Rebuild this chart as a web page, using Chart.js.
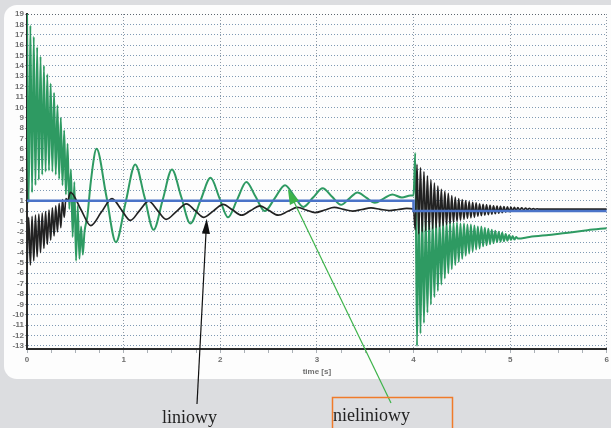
<!DOCTYPE html>
<html>
<head>
<meta charset="utf-8">
<script src="https://cdn.jsdelivr.net/npm/chart.js@4.4.1/dist/chart.umd.min.js"></script>
<style>
  html, body { margin: 0; padding: 0; background: #dcdde0; }
  canvas { display: block; }
</style>
</head>
<body>
<canvas id="wykres" width="611" height="428"></canvas>
<script>
// osie
const yTicks = [-13, -12, -11, -10, -9, -8, -7, -6, -5, -4, -3, -2, -1, 0, 1, 2, 3, 4, 5, 6, 7, 8, 9, 10, 11, 12, 13, 14, 15, 16, 17, 18, 19];
const xTicks = [0, 1, 2, 3, 4, 5, 6];

// wartosc zadana (niebieska)
const zadanaT = [0, 4, 4, 6];
const zadanaY = [1, 1, 0, 0];

// start - szybkie oscylacje 0..0.42 s
const szybkieT1 = [0, 0.0175, 0.035, 0.0525, 0.07, 0.0875, 0.105, 0.1225, 0.14, 0.1575, 0.175, 0.1925, 0.21, 0.2275, 0.245, 0.2625, 0.28, 0.2975, 0.315, 0.3325, 0.35, 0.3675, 0.385, 0.4025, 0.42];
const nieliniowyStart = [19.0, 0.8, 17.9, 1.8, 16.8, 2.5, 15.8, 3.0, 14.9, 3.5, 14.0, 3.8, 13.2, 3.9, 12.3, 3.8, 11.4, 3.5, 10.2, 3.1, 9.0, 2.5, 7.8, 1.6, 6.5];
const liniowyStart = [-5.6, -0.6, -5.2, -0.5, -4.8, -0.4, -4.4, -0.3, -4.0, -0.2, -3.6, -0.05, -3.2, 0.1, -2.8, 0.3, -2.4, 0.5, -2.0, 0.75, -1.6, 1.1, -0.6, 1.2, 1.0];

// wolne oscylacje do 4 s
const nieliniowyWolneT = [0.4375, 0.455, 0.4725, 0.49, 0.5075, 0.525, 0.5425, 0.56, 0.5775, 0.595, 0.625, 0.66, 0.72, 0.82, 0.92, 1.02, 1.12, 1.215, 1.31, 1.405, 1.5, 1.595, 1.69, 1.795, 1.9, 1.99, 2.08, 2.175, 2.27, 2.365, 2.46, 2.565, 2.67, 2.765, 2.86, 2.96, 3.06, 3.155, 3.25, 3.335, 3.42, 3.51, 3.6, 3.69, 3.78, 3.88, 3.97, 4.0];
const nieliniowyWolne = [0.2, 4.0, -2.5, 2.8, -4.8, 0.5, -4.6, -1.5, -4.2, -2.0, -0.5, 2.8, 6.0, 1.5, -3.0, 0.8, 4.5, 1.4, -1.8, 1.1, 4.0, 1.4, -1.2, 1.0, 3.2, 1.3, -0.6, 1.1, 2.8, 1.4, 0.0, 1.25, 2.5, 1.45, 0.4, 1.3, 2.2, 1.4, 0.6, 1.2, 1.8, 1.3, 0.8, 1.2, 1.6, 1.3, 1.5, 1.5];
const liniowyWolneT = [0.45, 0.555, 0.66, 0.77, 0.88, 0.975, 1.07, 1.165, 1.26, 1.35, 1.44, 1.545, 1.65, 1.74, 1.83, 1.93, 2.03, 2.125, 2.22, 2.315, 2.41, 2.505, 2.6, 2.7, 2.8, 2.89, 2.98, 3.08, 3.18, 3.275, 3.37, 3.465, 3.56, 3.655, 3.75, 3.84, 3.93, 4.0];
const liniowyWolne = [1.8, 0.2, -1.4, -0.1, 1.2, 0.15, -0.9, 0.05, 0.95, 0.07, -0.8, -0.05, 0.7, 0.05, -0.6, 0.02, 0.65, 0.12, -0.4, 0.05, 0.5, 0.05, -0.4, -0.02, 0.35, 0.1, -0.15, 0.1, 0.35, 0.17, 0.0, 0.15, 0.3, 0.17, 0.05, 0.15, 0.25, 0.2];

// po skoku w 4 s - szybkie oscylacje
const szybkieT2 = [4.018, 4.036, 4.054, 4.072, 4.09, 4.108, 4.126, 4.144, 4.162, 4.18,
  4.198, 4.216, 4.234, 4.252, 4.27, 4.288, 4.306, 4.324, 4.342, 4.36,
  4.378, 4.396, 4.414, 4.432, 4.45, 4.468, 4.486, 4.504, 4.522, 4.54,
  4.558, 4.576, 4.594, 4.612, 4.63, 4.648, 4.666, 4.684, 4.702, 4.72,
  4.738, 4.756, 4.774, 4.792, 4.81, 4.828, 4.846, 4.864, 4.882, 4.9,
  4.918, 4.936, 4.954, 4.972, 4.99, 5.008, 5.026, 5.044, 5.062, 5.08];
const nieliniowySkok = [5.6, -13.0, 0.5, -11.8, -0.2, -10.8, -0.5, -9.8, -0.7, -9.0,
  -0.8, -8.3, -0.9, -7.7, -0.9, -7.1, -1.0, -6.5, -1.0, -6.0,
  -1.0, -5.6, -1.1, -5.2, -1.1, -4.9, -1.2, -4.6, -1.2, -4.3,
  -1.3, -4.1, -1.3, -3.9, -1.4, -3.7, -1.5, -3.6, -1.5, -3.4,
  -1.6, -3.3, -1.7, -3.2, -1.8, -3.1, -1.9, -3.0, -2.0, -2.95,
  -2.1, -2.9, -2.2, -2.85, -2.3, -2.8, -2.4, -2.75, -2.5, -2.65];
const liniowySkok = [-1.8, 4.5, -2.2, 4.2, -2.0, 3.8, -1.9, 3.4, -1.8, 3.0,
  -1.7, 2.7, -1.6, 2.4, -1.5, 2.1, -1.4, 1.9, -1.3, 1.7,
  -1.2, 1.5, -1.1, 1.35, -1.0, 1.2, -0.9, 1.1, -0.8, 1.0,
  -0.7, 0.9, -0.65, 0.85, -0.6, 0.8, -0.5, 0.7, -0.45, 0.65,
  -0.4, 0.6, -0.35, 0.55, -0.3, 0.5, -0.25, 0.48, -0.2, 0.45,
  -0.15, 0.42, -0.1, 0.4, -0.05, 0.38, 0.0, 0.35, 0.05, 0.33];

// koncowki
const nieliniowyKoniecT = [5.2, 5.4, 5.6, 5.8, 6.0];
const nieliniowyKoniec = [-2.5, -2.3, -2.1, -1.85, -1.65];
const liniowyKoniecT = [5.1, 5.12, 5.14, 5.16, 5.18, 5.2, 5.22, 5.24, 5.26, 5.28, 5.3, 5.5, 6.0];
const liniowyKoniec = [0.1, 0.3, 0.12, 0.28, 0.14, 0.26, 0.15, 0.24, 0.16, 0.22, 0.18, 0.18, 0.18];

// miejsca wskazywane strzalkami (czas, wartosc)
const celLiniowy = [1.86, -0.75];
const celNieliniowy = [2.70, 2.1];

function punkty(t, y) {
  return t.map((x, i) => ({ x: x, y: y[i] }));
}

const daneLiniowy = punkty(szybkieT1, liniowyStart)
  .concat(punkty(liniowyWolneT, liniowyWolne))
  .concat(punkty(szybkieT2, liniowySkok))
  .concat(punkty(liniowyKoniecT, liniowyKoniec));
const daneNieliniowy = punkty(szybkieT1, nieliniowyStart)
  .concat(punkty(nieliniowyWolneT, nieliniowyWolne))
  .concat(punkty(szybkieT2, nieliniowySkok))
  .concat(punkty(nieliniowyKoniecT, nieliniowyKoniec));

const tlo = {
  id: 'tlo',
  beforeDraw(chart) {
    const c = chart.ctx;
    c.save();
    c.fillStyle = '#dcdde0';
    c.fillRect(0, 0, chart.width, chart.height);
    c.fillStyle = '#fdfdfd';
    c.beginPath();
    c.roundRect(4, 5, 650, 374, 13);
    c.fill();
    c.restore();
  }
};

function strzalka(c, x1, y1, x2, y2, kolor, dl, szer) {
  const a = Math.atan2(y2 - y1, x2 - x1);
  c.strokeStyle = kolor;
  c.fillStyle = kolor;
  c.lineWidth = 1.2;
  c.beginPath();
  c.moveTo(x1, y1);
  c.lineTo(x2 - Math.cos(a) * dl * 0.8, y2 - Math.sin(a) * dl * 0.8);
  c.stroke();
  c.beginPath();
  c.moveTo(x2, y2);
  c.lineTo(x2 - dl * Math.cos(a) + szer / 2 * Math.sin(a), y2 - dl * Math.sin(a) - szer / 2 * Math.cos(a));
  c.lineTo(x2 - dl * Math.cos(a) - szer / 2 * Math.sin(a), y2 - dl * Math.sin(a) + szer / 2 * Math.cos(a));
  c.closePath();
  c.fill();
}

const opisy = {
  id: 'opisy',
  afterDraw(chart) {
    const c = chart.ctx;
    const sx = chart.scales.x, sy = chart.scales.y;
    c.save();
    strzalka(c, 197, 404, sx.getPixelForValue(celLiniowy[0]), sy.getPixelForValue(celLiniowy[1]), '#111111', 15, 8);
    strzalka(c, 391, 403, sx.getPixelForValue(celNieliniowy[0]), sy.getPixelForValue(celNieliniowy[1]), '#3db34a', 15, 10);
    c.fillStyle = '#222222';
    c.font = '18px "Liberation Serif"';
    c.textBaseline = 'alphabetic';
    c.fillText('liniowy', 162, 423);
    c.fillText('nieliniowy', 333, 421);
    c.strokeStyle = '#f07b2a';
    c.lineWidth = 1.5;
    c.strokeRect(332.5, 397.5, 120, 40);
    c.restore();
  }
};

const ctx = document.getElementById('wykres').getContext('2d');

new Chart(ctx, {
  type: 'line',
  data: {
    datasets: [
      {
        label: 'zadana',
        data: punkty(zadanaT, zadanaY),
        borderColor: '#4a73c8',
        borderWidth: 2.6,
        pointRadius: 0,
        tension: 0
      },
      {
        label: 'liniowy',
        data: daneLiniowy,
        borderColor: '#222222',
        borderWidth: 1.7,
        pointRadius: 0,
        cubicInterpolationMode: 'monotone'
      },
      {
        label: 'nieliniowy',
        data: daneNieliniowy,
        borderColor: '#2e9a62',
        borderWidth: 2,
        pointRadius: 0,
        cubicInterpolationMode: 'monotone'
      }
    ]
  },
  options: {
    responsive: false,
    animation: false,
    layout: { padding: { left: 0, top: 14, right: 3, bottom: 49 } },
    plugins: {
      legend: { display: false },
      tooltip: { enabled: false }
    },
    scales: {
      x: {
        type: 'linear',
        min: 0,
        max: 6,
        afterFit: s => { s.height = 30; },
        ticks: {
          stepSize: 0.25,
          autoSkip: false,
          maxRotation: 0,
          padding: 2,
          color: '#6f6f6f',
          font: { family: '"Liberation Sans"', size: 8, weight: 'bold' },
          callback: v => xTicks.includes(v) ? String(v) : ''
        },
        grid: {
          color: c => c.tick && xTicks.includes(c.tick.value) ? '#8f9aa6' : 'rgba(0,0,0,0)',
          tickColor: '#aab0b6',
          tickLength: 4,
          lineWidth: 1
        },
        border: { display: true, color: '#2b2b2b', width: 2, dash: [1, 2] },
        title: {
          display: true,
          text: 'time [s]',
          color: '#6f6f6f',
          font: { family: '"Liberation Sans"', size: 8, weight: 'bold' },
          padding: { top: 0, bottom: 2 }
        }
      },
      y: {
        min: -13.3,
        max: 19,
        afterFit: s => { s.width = 27; },
        afterBuildTicks: s => { s.ticks = yTicks.map(v => ({ value: v })); },
        ticks: {
          autoSkip: false,
          padding: 1,
          color: '#6f6f6f',
          font: { family: '"Liberation Sans"', size: 8, weight: 'bold' }
        },
        grid: {
          color: c => c.tick && c.tick.value === 19 ? '#5d6670' : '#7f99b3',
          tickColor: '#9aa0a6',
          tickLength: 2,
          lineWidth: 1
        },
        border: { display: true, color: '#2b2b2b', width: 2, dash: [1, 2] }
      }
    }
  },
  plugins: [tlo, opisy]
});
</script>
</body>
</html>
